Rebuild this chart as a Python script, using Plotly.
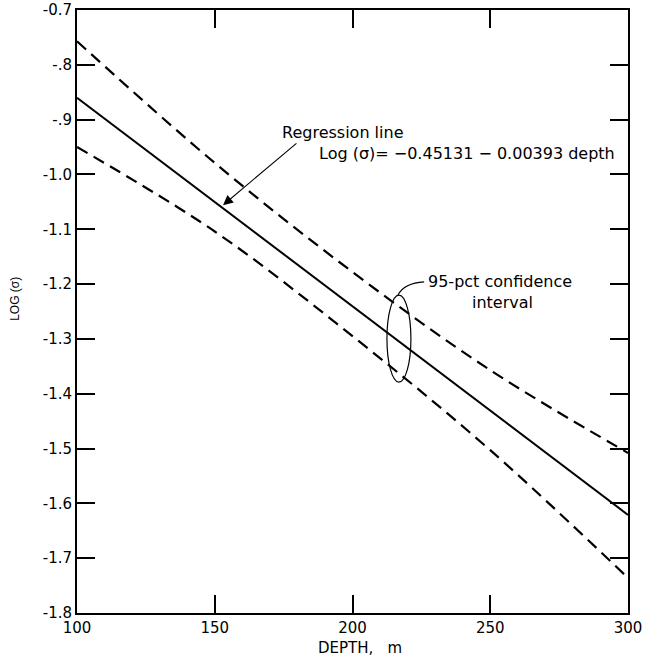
import plotly.graph_objects as go

# Data
depth = [100, 150, 200, 250, 300]
regression = [-0.860, -1.050, -1.240, -1.430, -1.621]
upper_ci = [-0.757, -0.979, -1.178, -1.357, -1.508]
lower_ci = [-0.950, -1.104, -1.295, -1.503, -1.736]

y_tickvals = [-0.7, -0.8, -0.9, -1.0, -1.1, -1.2, -1.3, -1.4, -1.5, -1.6, -1.7, -1.8]
y_ticktext = ["-0.7", "-.8", "-.9", "-1.0", "-1.1", "-1.2", "-1.3", "-1.4", "-1.5", "-1.6", "-1.7", "-1.8"]
x_tickvals = [100, 150, 200, 250, 300]
x_ticktext = ["100", "150", "200", "250", "300"]

FONT = "DejaVu Sans"

fig = go.Figure()
fig.add_trace(go.Scatter(x=depth, y=upper_ci, mode="lines", line_shape="spline",
                         line=dict(color="black", width=2.2, dash="12px,7px"), showlegend=False))
fig.add_trace(go.Scatter(x=depth, y=regression, mode="lines",
                         line=dict(color="black", width=2), showlegend=False))
fig.add_trace(go.Scatter(x=depth, y=lower_ci, mode="lines", line_shape="spline",
                         line=dict(color="black", width=2.2, dash="12px,7px"), showlegend=False))

fig.update_layout(
    width=645, height=661,
    margin=dict(l=77, r=17, t=10, b=48),
    paper_bgcolor="white", plot_bgcolor="white",
    font=dict(family=FONT, color="black", size=14),
)
fig.update_xaxes(range=[100, 300], tickvals=x_tickvals, ticktext=x_ticktext, automargin=False,
                 showgrid=False, zeroline=False, showline=True, linecolor="black", linewidth=1.8,
                 mirror="ticks", ticks="inside", ticklen=18, tickwidth=1.5, tickcolor="black",
                 tickfont=dict(size=15, family=FONT))
fig.update_yaxes(range=[-1.8, -0.7], tickvals=y_tickvals, ticktext=y_ticktext, automargin=False,
                 showgrid=False, zeroline=False, showline=True, linecolor="black", linewidth=1.8,
                 mirror="ticks", ticks="inside", ticklen=18, tickwidth=1.5, tickcolor="black",
                 tickfont=dict(size=15, family=FONT))

# Axis titles
fig.add_annotation(text="LOG (σ)", xref="paper", yref="paper", x=0, y=0.521,
                   xanchor="center", yanchor="middle", xshift=-62, textangle=-90,
                   showarrow=False, font=dict(size=12, family="Liberation Sans"))
fig.add_annotation(text="DEPTH,   m", xref="paper", yref="paper", x=0.514, y=0,
                   xanchor="center", yanchor="middle", yshift=-35,
                   showarrow=False, font=dict(size=15, family=FONT))

# Regression labels
fig.add_annotation(text="Regression line", x=196.2, y=-0.924, xref="x", yref="y",
                   xanchor="center", yanchor="middle", showarrow=False, font=dict(size=16, family=FONT))
fig.add_annotation(text="Log (σ)= −0.45131 − 0.00393 depth", x=187.1, y=-0.961, xref="x", yref="y",
                   xanchor="left", yanchor="middle", showarrow=False, font=dict(size=16, family=FONT))
fig.add_annotation(text="", x=153.0, y=-1.056, ax=180.2, ay=-0.941, xref="x", yref="y",
                   axref="x", ayref="y", showarrow=True, arrowhead=2, arrowsize=1.8,
                   arrowwidth=1.1, arrowcolor="black")

# Confidence interval labels
fig.add_annotation(text="95-pct confidence", x=226.5, y=-1.196, xref="x", yref="y",
                   xanchor="left", yanchor="middle", showarrow=False, font=dict(size=16, family=FONT))
fig.add_annotation(text="interval", x=254.3, y=-1.233, xref="x", yref="y",
                   xanchor="center", yanchor="middle", showarrow=False, font=dict(size=16, family=FONT))
fig.add_shape(type="circle", xref="x", yref="y", x0=212.5, x1=221.2, y0=-1.379, y1=-1.220,
              line=dict(color="black", width=1.2))
fig.add_shape(type="path", xref="x", yref="y", path="M 216.5,-1.220 Q 218.8,-1.198 226.0,-1.196",
              line=dict(color="black", width=1.2))

# remove the default page margin so the figure fills the window exactly
fig.write_html("out.html", config={"displayModeBar": False},
               post_script="document.body.style.margin='0px';")
